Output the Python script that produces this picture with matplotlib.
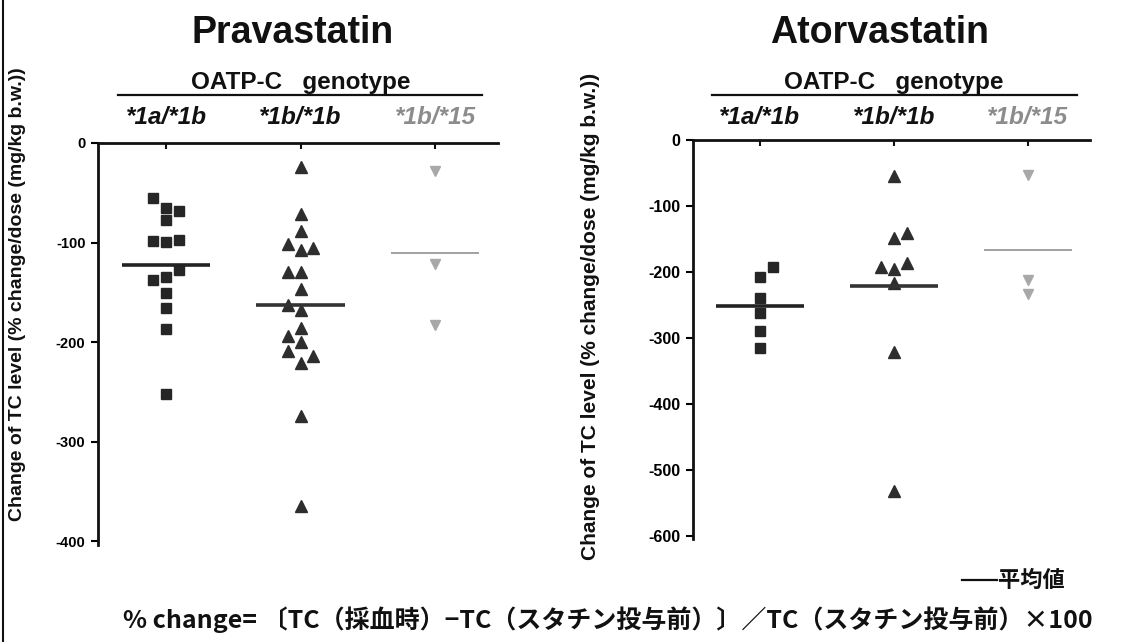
import numpy as np
import matplotlib
matplotlib.use("Agg")
import matplotlib.pyplot as plt
from matplotlib.lines import Line2D
from matplotlib.transforms import blended_transform_factory

plt.rcParams['font.family'] = ['Liberation Sans', 'DejaVu Sans']

# ---------------- data ----------------
genotypes = ["*1a/*1b", "*1b/*1b", "*1b/*15"]
panel_titles = ["Pravastatin", "Atorvastatin"]

prava_1a1b = [-55, -65, -68, -77, -98, -99, -97, -128, -138, -135, -151, -166, -187, -252]
prava_1a1b_lane = [-1, 0, 1, 0, -1, 0, 1, 1, -1, 0, 0, 0, 0, 0]
prava_1b1b = [-24, -71, -88, -102, -108, -106, -130, -130, -147, -163, -168, -186,
              -194, -200, -209, -214, -221, -274, -365]
prava_1b1b_lane = [0, 0, 0, -1, 0, 1, -1, 0, 0, -1, 0, 0, -1, 0, -1, 1, 0, 0, 0]
prava_1b15 = [-28, -122, -183]
prava_1b15_lane = [0, 0, 0]

ator_1a1b = [-193, -208, -240, -262, -290, -316]
ator_1a1b_lane = [1, 0, 0, 0, 0, 0]
ator_1b1b = [-54, -149, -141, -193, -196, -186, -217, -321, -532]
ator_1b1b_lane = [0, 0, 1, -1, 0, 1, 0, 0, 0]
ator_1b15 = [-53, -213, -233]
ator_1b15_lane = [0, 0, 0]

prava_ticks = [0, -100, -200, -300, -400]
ator_ticks = [0, -100, -200, -300, -400, -500, -600]

ylabel = "Change of TC level (% change/dose (mg/kg b.w.))"
header = "OATP-C   genotype"
legend_text = "平均値"
formula = "% change= 〔TC（採血時）−TC（スタチン投与前）〕／TC（スタチン投与前）×100"

# ---------------- styles ----------------
W, H = 1136, 642
fig = plt.figure(figsize=(W / 100, H / 100), dpi=100)

def fx(px):
    return px / W

def fy(py):
    return 1 - py / H

markers = ['s', '^', 'v']
mcolors = ['#262626', '#2e2e2e', '#a8a8a8']
msizes = [6.5, 8, 7.5]
mean_colors = ['#222222', '#333333', '#9a9a9a']
mean_widths = [2.6, 2.6, 1.3]
label_colors = ['#111111', '#111111', '#8c8c8c']
lane_step = 0.095
half_mean = 0.33

panels = [
    dict(rect=(98, 143, 498, 545), ylim=(-404, 0), xlim=(-0.506, 2.468),
         groups=[(prava_1a1b, prava_1a1b_lane), (prava_1b1b, prava_1b1b_lane),
                 (prava_1b15, prava_1b15_lane)],
         ticks=prava_ticks, tick_fs=10.5, ylab_x=18, ylab_fs=14, ylab_y=294,
         title_x=293, hline=(118, 482)),
    dict(rect=(693, 140, 1090, 539), ylim=(-605, 0), xlim=(-0.5, 2.463),
         groups=[(ator_1a1b, ator_1a1b_lane), (ator_1b1b, ator_1b1b_lane),
                 (ator_1b15, ator_1b15_lane)],
         ticks=ator_ticks, tick_fs=11.5, ylab_x=590, ylab_fs=15, ylab_y=316,
         title_x=880, hline=(712, 1077)),
]

for p, title in zip(panels, panel_titles):
    x0, y0, x1, y1 = p['rect']
    ax = fig.add_axes([fx(x0), fy(y1), fx(x1 - x0), (y1 - y0) / H])
    ax.set_xlim(*p['xlim'])
    ax.set_ylim(*p['ylim'])
    for i, (vals, lanes) in enumerate(p['groups']):
        xs = i + np.array(lanes) * lane_step
        ax.plot(xs, vals, linestyle='none', marker=markers[i], color=mcolors[i],
                markersize=msizes[i], markeredgecolor=mcolors[i], zorder=3)
        m = np.mean(vals)
        ax.plot([i - half_mean, i + half_mean], [m, m], color=mean_colors[i],
                lw=mean_widths[i], zorder=4, solid_capstyle='butt')
    for s in ['right', 'bottom']:
        ax.spines[s].set_visible(False)
    for s in ['left', 'top']:
        ax.spines[s].set_linewidth(2.0)
        ax.spines[s].set_color('#111111')
    ax.xaxis.set_ticks_position('top')
    ax.set_xticks(range(len(genotypes)))
    ax.set_xticklabels([])
    ax.tick_params(axis='x', direction='in', length=4, width=1.5, colors='#111111')
    ax.set_yticks(p['ticks'])
    ax.set_yticklabels([str(t) for t in p['ticks']], fontweight='bold',
                       fontsize=p['tick_fs'])
    ax.tick_params(axis='y', direction='out', length=5, width=1.5, pad=4)
    ax.patch.set_visible(False)

    # genotype labels
    tr = blended_transform_factory(ax.transData, fig.transFigure)
    for i, g in enumerate(genotypes):
        ax.text(i, fy(118), g, transform=tr, ha='center', va='center',
                fontsize=17.5, fontweight='bold', style='italic', color=label_colors[i])
    # header + rule
    ax.text(1, fy(82), header, transform=tr, ha='center', va='center',
            fontsize=17.5, fontweight='bold', color='#111111')
    fig.add_artist(Line2D([fx(p['hline'][0]), fx(p['hline'][1])], [fy(95), fy(95)],
                          color='#111111', lw=1.6))
    # title
    fig.text(fx(p['title_x']), fy(33), title, ha='center', va='center',
             fontsize=27, fontweight='bold', color='#111111')
    # y label
    fig.text(fx(p['ylab_x']), fy(p['ylab_y']), ylabel, rotation=90, ha='center',
             va='center', fontsize=p['ylab_fs'], fontweight='bold', color='#111111')

# legend: mean line
fig.add_artist(Line2D([fx(962), fx(997)], [fy(580), fy(580)], color='#111111', lw=1.6))
fig.text(fx(998), fy(580), legend_text, ha='left', va='center', fontsize=16,
         fontweight='bold', family=['Noto Sans CJK JP', 'DejaVu Sans'], color='#111111')

# formula
fig.text(fx(608), fy(620), formula, ha='center', va='center', fontsize=18,
         fontweight='bold', family=['Noto Sans CJK JP', 'DejaVu Sans'], color='#111111')

# left frame edge
fig.add_artist(Line2D([fx(3), fx(3)], [0, 1], color='#111111', lw=1.5))

fig.savefig("out.png", dpi=100)
